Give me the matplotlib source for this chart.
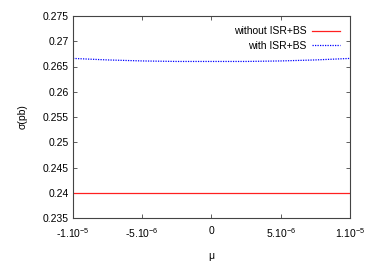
import numpy as np
import matplotlib
matplotlib.use('Agg')
import matplotlib.pyplot as plt

plt.rcParams['font.family'] = ['Liberation Sans', 'DejaVu Sans']
plt.rcParams['mathtext.default'] = 'regular'
plt.rcParams['font.size'] = 7.5

mu = [-1e-5, -7.5e-6, -5e-6, -2.5e-6, 0, 2.5e-6, 5e-6, 7.5e-6, 1e-5]
sigma_no_isr = [0.2400, 0.2400, 0.2400, 0.2400, 0.2400, 0.2400, 0.2400, 0.2400, 0.2400]
sigma_isr = [0.2666, 0.2663, 0.2661, 0.2660, 0.2660, 0.2660, 0.2661, 0.2663, 0.2666]

xticks = [-1e-5, -5e-6, 0, 5e-6, 1e-5]
xticklabels = ['-1.10$^{-5}$', '-5.10$^{-6}$', '0', '5.10$^{-6}$', '1.10$^{-5}$']
yticks = [0.235, 0.24, 0.245, 0.25, 0.255, 0.26, 0.265, 0.27, 0.275]
yticklabels = ['0.235', '0.24', '0.245', '0.25', '0.255', '0.26', '0.265', '0.27', '0.275']

fig = plt.figure(figsize=(3.82, 2.74), dpi=100)
ax = fig.add_axes([73/382, 1 - 218/274, (350-73)/382, (218-16)/274])

ax.plot(mu, sigma_no_isr, color='#ff2020', lw=0.9, label='without ISR+BS')
ax.plot(mu, sigma_isr, color='#0000ff', lw=0.9, ls=(0, (1, 1)), label='with ISR+BS')

ax.set_xlim(-1e-5, 1e-5)
ax.set_ylim(0.235, 0.275)
ax.set_xticks(xticks)
ax.set_xticklabels(xticklabels)
ax.set_yticks(yticks)
ax.set_yticklabels(yticklabels)
ax.tick_params(direction='in', top=True, right=True, length=3, width=0.6,
               color='#444444', pad=3)
ax.tick_params(axis='x', pad=6)
for s in ax.spines.values():
    s.set_color('#444444')
    s.set_linewidth(0.8)

ax.set_xlabel('μ', labelpad=8)
ax.set_ylabel('σ(pb)', labelpad=11)

ax.legend(loc='upper right', frameon=False, markerfirst=False, handlelength=2.6,
          borderaxespad=0.6, labelspacing=0.4, handletextpad=0.6)

fig.savefig('out.png', dpi=100)
